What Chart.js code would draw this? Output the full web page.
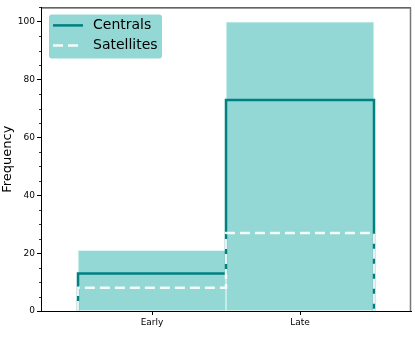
<!DOCTYPE html>
<html>
<head>
<meta charset="utf-8">
<script src="https://cdn.jsdelivr.net/npm/chart.js@4.4.1/dist/chart.umd.min.js"></script>
<style>
    html, body { margin: 0; padding: 0; background: #fff; }
    #wrap { width: 415px; height: 346px; }
</style>
</head>
<body>
<div id="wrap"><canvas id="chart"></canvas></div>
<script>
// Histogram values per bin
const categories = ['Early', 'Late'];
const centrals = [13, 73];
const satellites = [8, 27];
const totals = [21, 100];
const yTicks = [0, 20, 40, 60, 80, 100];

const fillColor = 'rgb(147, 216, 212)';
const tealColor = 'rgb(0, 128, 128)';

// Build step outline (bin edges at index +/- 0.5)
function stepPoints(values) {
    const pts = [{ x: -0.5, y: 0 }];
    values.forEach((v, i) => {
        pts.push({ x: i - 0.5, y: v });
        pts.push({ x: i + 0.5, y: v });
    });
    pts.push({ x: values.length - 0.5, y: 0 });
    return pts;
}

// Frame, minor ticks and legend box
const decorPlugin = {
    id: 'decor',
    afterDraw(chart) {
        const ctx = chart.ctx;
        const a = chart.chartArea;
        const y = chart.scales.y;
        ctx.save();
        // minor y ticks
        ctx.strokeStyle = '#000';
        ctx.lineWidth = 0.8;
        for (let v = 5; v <= 105; v += 5) {
            if (v % 20 === 0) continue;
            const py = Math.round(y.getPixelForValue(v)) + 0.5;
            ctx.beginPath();
            ctx.moveTo(a.left - 2, py);
            ctx.lineTo(a.left, py);
            ctx.stroke();
        }
        // top and right spines
        ctx.lineWidth = 1;
        ctx.beginPath();
        ctx.moveTo(a.left, a.top + 0.5);
        ctx.lineTo(a.right, a.top + 0.5);
        ctx.stroke();
        ctx.strokeStyle = '#777';
        ctx.lineWidth = 1.5;
        ctx.beginPath();
        ctx.moveTo(a.right - 0.5, a.top);
        ctx.lineTo(a.right - 0.5, a.bottom);
        ctx.stroke();

        // legend
        const lx = a.left + 8, ly = a.top + 7, lw = 113, lh = 44;
        ctx.fillStyle = fillColor;
        ctx.beginPath();
        ctx.roundRect(lx, ly, lw, lh, 3);
        ctx.fill();
        ctx.lineWidth = 2.5;
        ctx.strokeStyle = tealColor;
        ctx.beginPath();
        ctx.moveTo(lx + 4, ly + 11);
        ctx.lineTo(lx + 34, ly + 11);
        ctx.stroke();
        ctx.strokeStyle = 'rgba(255,255,255,0.9)';
        ctx.setLineDash([10, 5]);
        ctx.beginPath();
        ctx.moveTo(lx + 4, ly + 31);
        ctx.lineTo(lx + 34, ly + 31);
        ctx.stroke();
        ctx.setLineDash([]);
        ctx.fillStyle = '#000';
        ctx.font = '14px "DejaVu Sans"';
        ctx.textBaseline = 'middle';
        ctx.fillText('Centrals', lx + 44, ly + 11);
        ctx.fillText('Satellites', lx + 44, ly + 31);
        ctx.restore();
    }
};

new Chart(document.getElementById('chart'), {
    type: 'bar',
    data: {
        datasets: [{
            type: 'line',
            label: 'Satellites',
            data: stepPoints(satellites),
            borderColor: 'rgba(255,255,255,0.9)',
            borderWidth: 2.5,
            borderDash: [10, 5],
            pointRadius: 0,
            tension: 0,
            order: 0
        }, {
            type: 'line',
            label: 'Centrals',
            data: stepPoints(centrals),
            borderColor: tealColor,
            borderWidth: 2.5,
            pointRadius: 0,
            tension: 0,
            order: 1
        }, {
            label: 'Total',
            data: totals.map((v, i) => ({ x: i, y: v })),
            backgroundColor: fillColor,
            borderColor: 'rgba(215, 245, 243, 0.9)',
            borderWidth: 1,
            barPercentage: 1,
            categoryPercentage: 1,
            order: 2
        }]
    },
    options: {
        responsive: true,
        maintainAspectRatio: false,
        animation: false,
        layout: { padding: { top: 3, right: 4, left: 0, bottom: 0 } },
        plugins: {
            legend: { display: false },
            tooltip: { enabled: false }
        },
        scales: {
            x: {
                type: 'linear',
                min: -0.75,
                max: 1.75,
                offset: false,
                afterBuildTicks: (scale) => {
                    scale.ticks = categories.map((c, i) => ({ value: i }));
                },
                afterFit: (scale) => { scale.height = 35; },
                ticks: {
                    callback: (v) => categories[v],
                    color: '#000',
                    font: { family: 'DejaVu Sans', size: 9 },
                    padding: 2,
                    maxRotation: 0
                },
                grid: {
                    offset: false,
                    drawOnChartArea: false,
                    tickLength: 4,
                    tickColor: '#000'
                },
                border: { color: '#000', width: 1 }
            },
            y: {
                min: 0,
                max: 105,
                afterBuildTicks: (scale) => {
                    scale.ticks = yTicks.map(v => ({ value: v }));
                },
                afterFit: (scale) => { scale.width = 41; },
                ticks: {
                    color: '#000',
                    font: { family: 'DejaVu Sans', size: 9 },
                    padding: 2
                },
                grid: {
                    drawOnChartArea: false,
                    tickLength: 4,
                    tickColor: '#000'
                },
                border: { color: '#000', width: 1 },
                title: {
                    display: true,
                    text: 'Frequency',
                    color: '#000',
                    font: { family: 'DejaVu Sans', size: 13 },
                    padding: 0
                }
            }
        }
    },
    plugins: [decorPlugin]
});
</script>
</body>
</html>
